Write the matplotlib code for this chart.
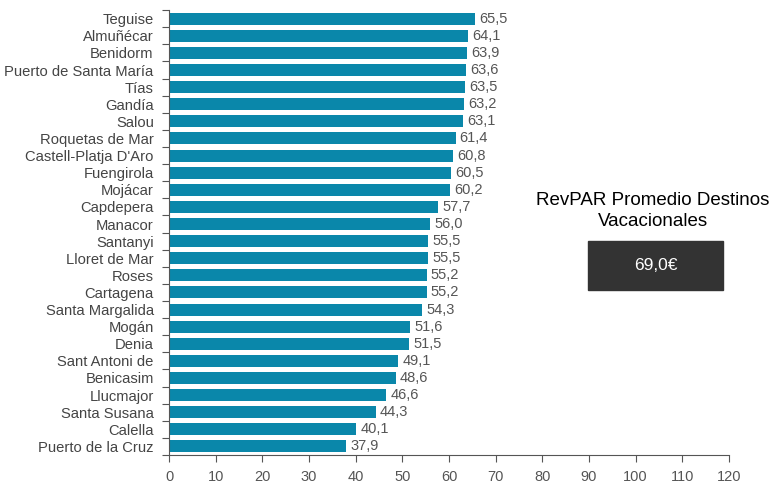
import matplotlib
matplotlib.use("Agg")
import matplotlib.pyplot as plt
from matplotlib.patches import Rectangle

categories = ["Teguise", "Almuñécar", "Benidorm", "Puerto de Santa María", "Tías", "Gandía",
              "Salou", "Roquetas de Mar", "Castell-Platja D'Aro", "Fuengirola", "Mojácar",
              "Capdepera", "Manacor", "Santanyi", "Lloret de Mar", "Roses", "Cartagena",
              "Santa Margalida", "Mogán", "Denia", "Sant Antoni de", "Benicasim", "Llucmajor",
              "Santa Susana", "Calella", "Puerto de la Cruz"]
values = [65.5, 64.1, 63.9, 63.6, 63.5, 63.2, 63.1, 61.4, 60.8, 60.5, 60.2, 57.7, 56.0,
          55.5, 55.5, 55.2, 55.2, 54.3, 51.6, 51.5, 49.1, 48.6, 46.6, 44.3, 40.1, 37.9]
xticks = list(range(0, 121, 10))
box_title = "RevPAR Promedio Destinos\nVacacionales"
box_value = "69,0€"

plt.rcParams['font.family'] = ['Liberation Sans', 'DejaVu Sans']
fig = plt.figure(figsize=(7.81, 4.84), dpi=100)
ax = fig.add_axes([0.2164, 0.060, 0.717, 0.919])

n = len(categories)
ypos = list(range(n))
ax.barh(ypos, values, height=0.7, color='#0A87AA')
for y, v in zip(ypos, values):
    ax.text(v + 0.9, y, f"{v:.1f}".replace('.', ','), va='center', ha='left',
            fontsize=10.5, color='#555555')
ax.set_ylim(n - 0.5, -0.5)
ax.set_xlim(0, 120)
ax.set_xticks(xticks)
ax.set_xticklabels([str(t) for t in xticks], fontsize=10.5, color='#555555')
ax.set_yticks(ypos)
ax.set_yticklabels(categories, fontsize=10.6, color='#444444')
ax.tick_params(axis='y', length=0, pad=11)
ax.set_yticks([i - 0.5 for i in range(n + 1)], minor=True)
ax.tick_params(axis='y', which='minor', length=5, color='#555555', width=0.8)
ax.tick_params(axis='x', length=5, color='#555555', width=0.8, pad=6)
for s in ['top', 'right']:
    ax.spines[s].set_visible(False)
ax.spines['left'].set_color('#555555')
ax.spines['bottom'].set_color('#555555')
ax.spines['left'].set_linewidth(0.8)
ax.spines['bottom'].set_linewidth(0.8)

fig.text(653 / 781, 1 - 211 / 484, box_title, ha='center', va='center', fontsize=13.5,
         color='black', linespacing=1.3)
fig.patches.append(Rectangle((588 / 781, 1 - 290 / 484), 135 / 781, 49 / 484,
                             transform=fig.transFigure, color='#333333'))
fig.text(656 / 781, 1 - 266 / 484, box_value, ha='center', va='center', fontsize=12.5,
         color='white')

fig.savefig("out.png", dpi=100)
